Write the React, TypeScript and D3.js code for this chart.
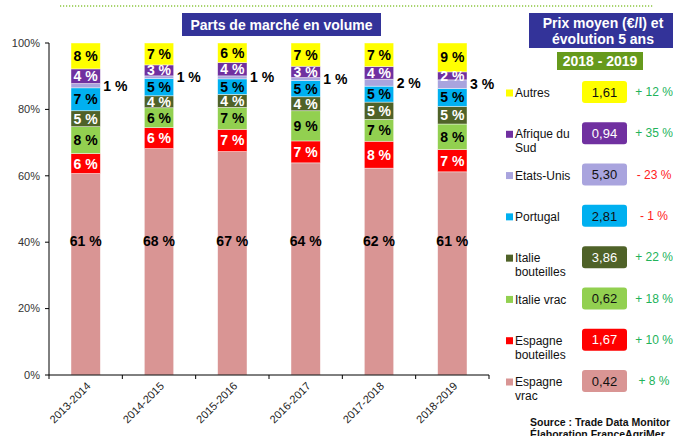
import React from 'react';
import * as d3 from 'd3';

const years = ['2013-2014', '2014-2015', '2015-2016', '2016-2017', '2017-2018', '2018-2019'];
const seriesKeys = ['Espagne vrac', 'Espagne bouteilles', 'Italie vrac', 'Italie bouteilles', 'Portugal', 'Etats-Unis', 'Afrique du Sud', 'Autres'];
const espagneVrac = [60.7, 68.2, 67.3, 63.9, 62.3, 61.2];
const espagneBouteilles = [6.0, 6.3, 6.7, 6.6, 8.1, 6.7];
const italieVrac = [8.1, 6.0, 6.6, 9.1, 6.6, 7.7];
const italieBouteilles = [4.8, 3.6, 3.9, 4.2, 5.2, 5.3];
const portugal = [6.9, 5.2, 4.7, 4.9, 4.8, 5.4];
const etatsUnis = [1.3, 0.8, 0.9, 0.9, 2.1, 2.6];
const afriqueDuSud = [4.4, 3.3, 4.0, 3.4, 3.8, 2.4];
const autres = [7.8, 6.6, 5.9, 7.0, 7.1, 8.7];
const seriesColors = ['#D99594', '#FF0000', '#92D050', '#4F6228', '#00B0F0', '#A9A4DE', '#7030A0', '#FFFF00'];
const labelColors = ['#000', '#fff', '#000', '#fff', '#000', '#000', '#fff', '#000'];
const yTicks = [0, 20, 40, 60, 80, 100];

// legend (top to bottom)
const legendNames = [['Autres'], ['Afrique du', 'Sud'], ['Etats-Unis'], ['Portugal'], ['Italie', 'bouteilles'], ['Italie vrac'], ['Espagne', 'bouteilles'], ['Espagne', 'vrac']];
const legendSeries = ['Autres', 'Afrique du Sud', 'Etats-Unis', 'Portugal', 'Italie bouteilles', 'Italie vrac', 'Espagne bouteilles', 'Espagne vrac'];
const prices = ['1,61', '0,94', '5,30', '2,81', '3,86', '0,62', '1,67', '0,42'];
const evolutions = ['+ 12 %', '+ 35 %', '- 23 %', '- 1 %', '+ 22 %', '+ 18 %', '+ 10 %', '+ 8 %'];

const FONT = "Arial, 'Liberation Sans', sans-serif";

export default function App() {
  const W = 673, H = 436;
  const x0 = 49, x1 = 489, yTop = 43, yBot = 375;
  const seriesData = [espagneVrac, espagneBouteilles, italieVrac, italieBouteilles, portugal, etatsUnis, afriqueDuSud, autres];
  const rows = years.map((yr, i) => {
    const r: any = { year: yr };
    seriesKeys.forEach((k, j) => (r[k] = seriesData[j][i]));
    return r;
  });
  const stack = d3.stack().keys(seriesKeys)(rows as any);
  const x = d3.scaleBand().domain(years).range([x0, x1]).paddingInner(0.6).paddingOuter(0.3);
  const y = d3.scaleLinear().domain([0, 100]).range([yBot, yTop]);
  const step = x.step();
  const bw = x.bandwidth();
  const legendY = d3.scalePoint().domain(legendSeries).range([92, 381]);

  return (
    <svg width={W} height={H} style={{ position: 'absolute', left: 0, top: 0, background: '#fff' }} fontFamily={FONT}>
      <line x1={60} x2={653} y1={6} y2={6} stroke="#8DC63F" strokeWidth={1.5} strokeDasharray="1.2,1.8" />
      {/* title */}
      <rect x={182} y={13} width={199} height={23} fill="#333399" />
      <text x={281.5} y={30} textAnchor="middle" fill="#fff" fontSize={14} fontWeight="bold">Parts de marché en volume</text>

      {/* bars */}
      {stack.map((s, si) => (
        <g key={seriesKeys[si]}>
          {s.map((d: any, i) => (
            <rect key={i} x={x(years[i])} y={y(d[1])} width={bw} height={y(d[0]) - y(d[1])}
              fill={seriesColors[si]} stroke="#fff" strokeOpacity={0.6} strokeWidth={0.7} />
          ))}
        </g>
      ))}
      {stack.map((s, si) => (
        <g key={'l' + si}>
          {s.map((d: any, i) => {
            const v = d[1] - d[0];
            const cx = (x(years[i]) as number) + bw / 2;
            const lbl = Math.round(v) + ' %';
            if (seriesKeys[si] === 'Etats-Unis') {
              return <text key={i} x={(x(years[i]) as number) + bw + 3} y={(y(d[0]) + y(d[1])) / 2} dy="0.36em"
                fontSize={14} fontWeight="bold" fill="#000">{lbl}</text>;
            }
            const cy = seriesKeys[si] === 'Espagne vrac' ? y(40.5) : (y(d[0]) + y(d[1])) / 2;
            return <text key={i} x={cx} y={cy} dy="0.36em" textAnchor="middle"
              fontSize={14} fontWeight="bold" fill={labelColors[si]}>{lbl}</text>;
          })}
        </g>
      ))}

      {/* axes */}
      <line x1={x0} x2={x0} y1={yTop} y2={yBot} stroke="#000" strokeWidth={1} />
      <line x1={x0} x2={x1} y1={yBot} y2={yBot} stroke="#000" strokeWidth={1} />
      {yTicks.map(t => (
        <g key={t}>
          <line x1={x0 - 4} x2={x0} y1={y(t)} y2={y(t)} stroke="#000" />
          <text x={40} y={y(t)} dy="0.35em" textAnchor="end" fontSize={11} fill="#333">{t}%</text>
        </g>
      ))}
      {d3.range(years.length + 1).map(i => (
        <line key={i} x1={x0 + i * step} x2={x0 + i * step} y1={yBot} y2={yBot + 4} stroke="#000" />
      ))}
      {years.map(yr => {
        const cx = (x(yr) as number) + bw / 2 + 3;
        return <text key={yr} transform={`translate(${cx},${yBot + 9}) rotate(-45)`} textAnchor="end"
          dy="0.35em" fontSize={11} fill="#222">{yr}</text>;
      })}

      {/* right panel */}
      <rect x={529} y={13} width={144} height={35} fill="#333399" />
      <text x={603} y={28} textAnchor="middle" fill="#fff" fontSize={14} fontWeight="bold">Prix moyen (€/l) et</text>
      <text x={603} y={44} textAnchor="middle" fill="#fff" fontSize={14} fontWeight="bold">évolution 5 ans</text>
      <rect x={557} y={52} width={86} height={18} fill="#669A1C" />
      <text x={600} y={66} textAnchor="middle" fill="#fff" fontSize={14} fontWeight="bold">2018 - 2019</text>

      {legendSeries.map((k, i) => {
        const ry = legendY(k) as number;
        const si = seriesKeys.indexOf(k);
        const lines = legendNames[i];
        const neg = evolutions[i].startsWith('-');
        return (
          <g key={k}>
            <rect x={506} y={ry + 1 - 3.5} width={7} height={7} fill={seriesColors[si]} />
            {lines.map((ln, li) => (
              <text key={li} x={515} y={ry + 1 + li * 14} dy="0.35em" fontSize={12} fill="#111">{ln}</text>
            ))}
            <rect x={582} y={ry - 11} width={45} height={22} rx={3} fill={seriesColors[si]} />
            <text x={604.5} y={ry} dy="0.36em" textAnchor="middle" fontSize={13} fill={labelColors[si] === '#fff' ? '#fff' : '#111'}>{prices[i]}</text>
            <text x={654} y={ry} dy="0.35em" textAnchor="middle" fontSize={12} fill={neg ? '#FF2020' : '#22B35A'}>{evolutions[i]}</text>
          </g>
        );
      })}
      <text x={530} y={426} fontSize={10.5} fontWeight="bold" fill="#111">Source : Trade Data Monitor</text>
      <text x={530} y={438} fontSize={10.5} fontWeight="bold" fill="#111">Élaboration FranceAgriMer</text>
    </svg>
  );
}
